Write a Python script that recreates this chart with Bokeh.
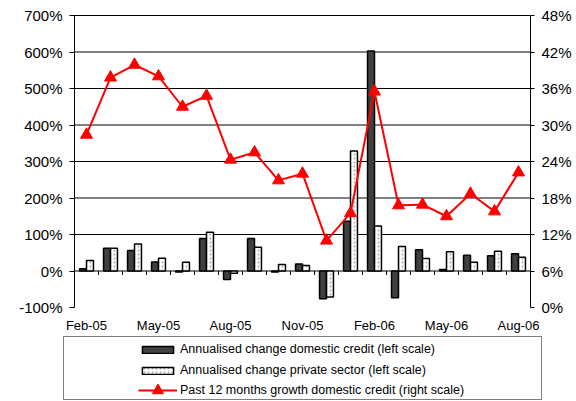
from bokeh.plotting import figure
from bokeh.models import (Range1d, LinearAxis, FixedTicker, PrintfTickFormatter,
                          Legend, LegendItem, ColumnDataSource)
from bokeh.transform import dodge
from bokeh.embed import file_html
from bokeh.resources import INLINE

months = ["Feb-05", "Mar-05", "Apr-05", "May-05", "Jun-05", "Jul-05", "Aug-05",
          "Sep-05", "Oct-05", "Nov-05", "Dec-05", "Jan-06", "Feb-06", "Mar-06",
          "Apr-06", "May-06", "Jun-06", "Jul-06", "Aug-06"]
domestic = [6, 62, 56, 25, -3, 89, -23, 89, -3, 19, -76, 136, 603, -73, 58, 4, 43, 42, 47]
private = [29, 62, 74, 35, 24, 106, -6, 65, 18, 15, -71, 329, 123, 67, 34, 53, 24, 54, 38]
growth = [28.4, 37.8, 39.9, 38.0, 33.0, 34.8, 24.3, 25.5, 20.9, 22.0, 11.0, 15.5,
          35.5, 16.8, 16.9, 15.0, 18.7, 15.8, 22.2]
left_ticks = list(range(-100, 701, 100))
right_ticks = list(range(0, 49, 6))
label_every = 3
legend_labels = ["Annualised change domestic credit (left scale)",
                 "Annualised change private sector (left scale)",
                 "Past 12 months growth domestic credit (right scale)"]

n = len(months)
xc = [i + 0.5 for i in range(n)]
src = ColumnDataSource(dict(x=xc, dom=domestic, priv=private, g=growth))

FONT = "Liberation Sans"
W, H = 576, 401
# plot-area placement on the canvas (pixels)
PL, PR, PT, PB = 74, 530, 15, 307
lmin, lmax = left_ticks[0], left_ticks[-1]
rmin, rmax = right_ticks[0], right_ticks[-1]

xu = (PR - PL) / n
x_range = Range1d(-PL / xu, n + (W - PR) / xu)
ly = (PB - PT) / (lmax - lmin)
y_range = Range1d(lmin - (H - PB) / ly, lmax + PT / ly)
ry = (PB - PT) / (rmax - rmin)
r_range = Range1d(rmin - (H - PB) / ry, rmax + PT / ry)

p = figure(width=W, height=H, x_range=x_range, y_range=y_range,
           output_backend="svg", toolbar_location=None,
           min_border_left=0, min_border_right=0, min_border_top=0, min_border_bottom=0)
p.outline_line_color = None
p.grid.visible = False
p.extra_y_ranges = {"r": r_range}

# horizontal gridlines over the plot area
gl = [t for t in left_ticks if t >= 0]
p.segment(x0=[0] * len(gl), y0=gl, x1=[n] * len(gl), y1=gl, line_color="black", line_width=1)
# category tick marks under the zero line
bounds = list(range(1, n))
p.segment(x0=bounds, y0=[0] * len(bounds), x1=bounds, y1=[-11] * len(bounds),
          line_color="black", line_width=1)

# left axis at x = 0
ya = p.yaxis[0]
ya.fixed_location = 0
ya.bounds = (lmin, lmax)
ya.ticker = FixedTicker(ticks=left_ticks)
ya.formatter = PrintfTickFormatter(format="%d%%")
ya.major_label_text_font = FONT
ya.major_label_text_font_size = "15px"
ya.major_label_text_color = "black"
ya.axis_line_color = "black"
ya.major_tick_line_color = "black"
ya.major_tick_out = 5
ya.major_tick_in = 0
ya.minor_tick_line_color = None
ya.major_label_standoff = 7

# right axis at x = n
ra = LinearAxis(y_range_name="r", ticker=FixedTicker(ticks=right_ticks),
                formatter=PrintfTickFormatter(format="%d%%"),
                fixed_location=n, bounds=(rmin, rmax))
ra.major_label_text_font = FONT
ra.major_label_text_font_size = "15px"
ra.major_label_text_color = "black"
ra.axis_line_color = "black"
ra.major_tick_line_color = "black"
ra.major_tick_out = 4
ra.major_tick_in = 0
ra.minor_tick_line_color = None
ra.major_label_standoff = 7
p.add_layout(ra, "right")

# x axis labels along the bottom of the plot area
xa = p.xaxis[0]
xa.fixed_location = lmin
xa.bounds = (0, n)
xa.ticker = FixedTicker(ticks=[xc[i] for i in range(0, n, label_every)])
xa.major_label_overrides = {xc[i]: months[i] for i in range(0, n, label_every)}
xa.axis_line_color = None
xa.major_tick_line_color = None
xa.minor_tick_line_color = None
xa.major_label_text_font = FONT
xa.major_label_text_font_size = "13px"
xa.major_label_text_color = "black"
xa.major_label_standoff = 4

bw = 0.29
r_dom = p.vbar(x=dodge("x", -bw / 2, range=p.x_range), top="dom", bottom=0, width=bw,
               source=src, fill_color="#404040", line_color="black", line_width=1.5)
r_priv = p.vbar(x=dodge("x", bw / 2, range=p.x_range), top="priv", bottom=0, width=bw,
                source=src, fill_color="white", line_color="black", line_width=1.5,
                hatch_pattern="dot", hatch_color="#aaaaaa", hatch_scale=4, hatch_weight=1)
r_line = p.line(x="x", y="g", source=src, y_range_name="r", line_color="#ff0000", line_width=2)
r_mark = p.scatter(x="x", y="g", source=src, y_range_name="r", marker="triangle", size=12,
                   fill_color="#ff0000", line_color="#ff0000")

# legend frame
r_dummy = p.scatter(x=[xc[0]], y=[0], alpha=0, size=1)
box = Legend(items=[LegendItem(label=" ", renderers=[r_dummy])], location=(63, 1),
             padding=0, spacing=0, glyph_width=1, glyph_height=1, label_width=476,
             label_height=62, label_standoff=0, margin=0,
             border_line_color="black", border_line_width=1,
             background_fill_color="white", background_fill_alpha=1)
p.add_layout(box)

leg_style = dict(margin=0, label_text_font=FONT, label_text_font_size="12.5px",
                 label_text_color="black", border_line_alpha=0, background_fill_alpha=0,
                 glyph_width=39, label_standoff=3)

leg_bars = Legend(items=[
    LegendItem(label=legend_labels[0], renderers=[r_dom]),
    LegendItem(label=legend_labels[1], renderers=[r_priv]),
], location=(136, 20), padding=2, spacing=3, glyph_height=9, label_height=18, **leg_style)
p.add_layout(leg_bars)

leg_line = Legend(items=[
    LegendItem(label=legend_labels[2], renderers=[r_line, r_mark]),
], location=(138, -3), padding=0, spacing=0, glyph_height=28, label_height=18, **leg_style)
p.add_layout(leg_line)

open("out.html", "w").write(file_html(p, INLINE))
